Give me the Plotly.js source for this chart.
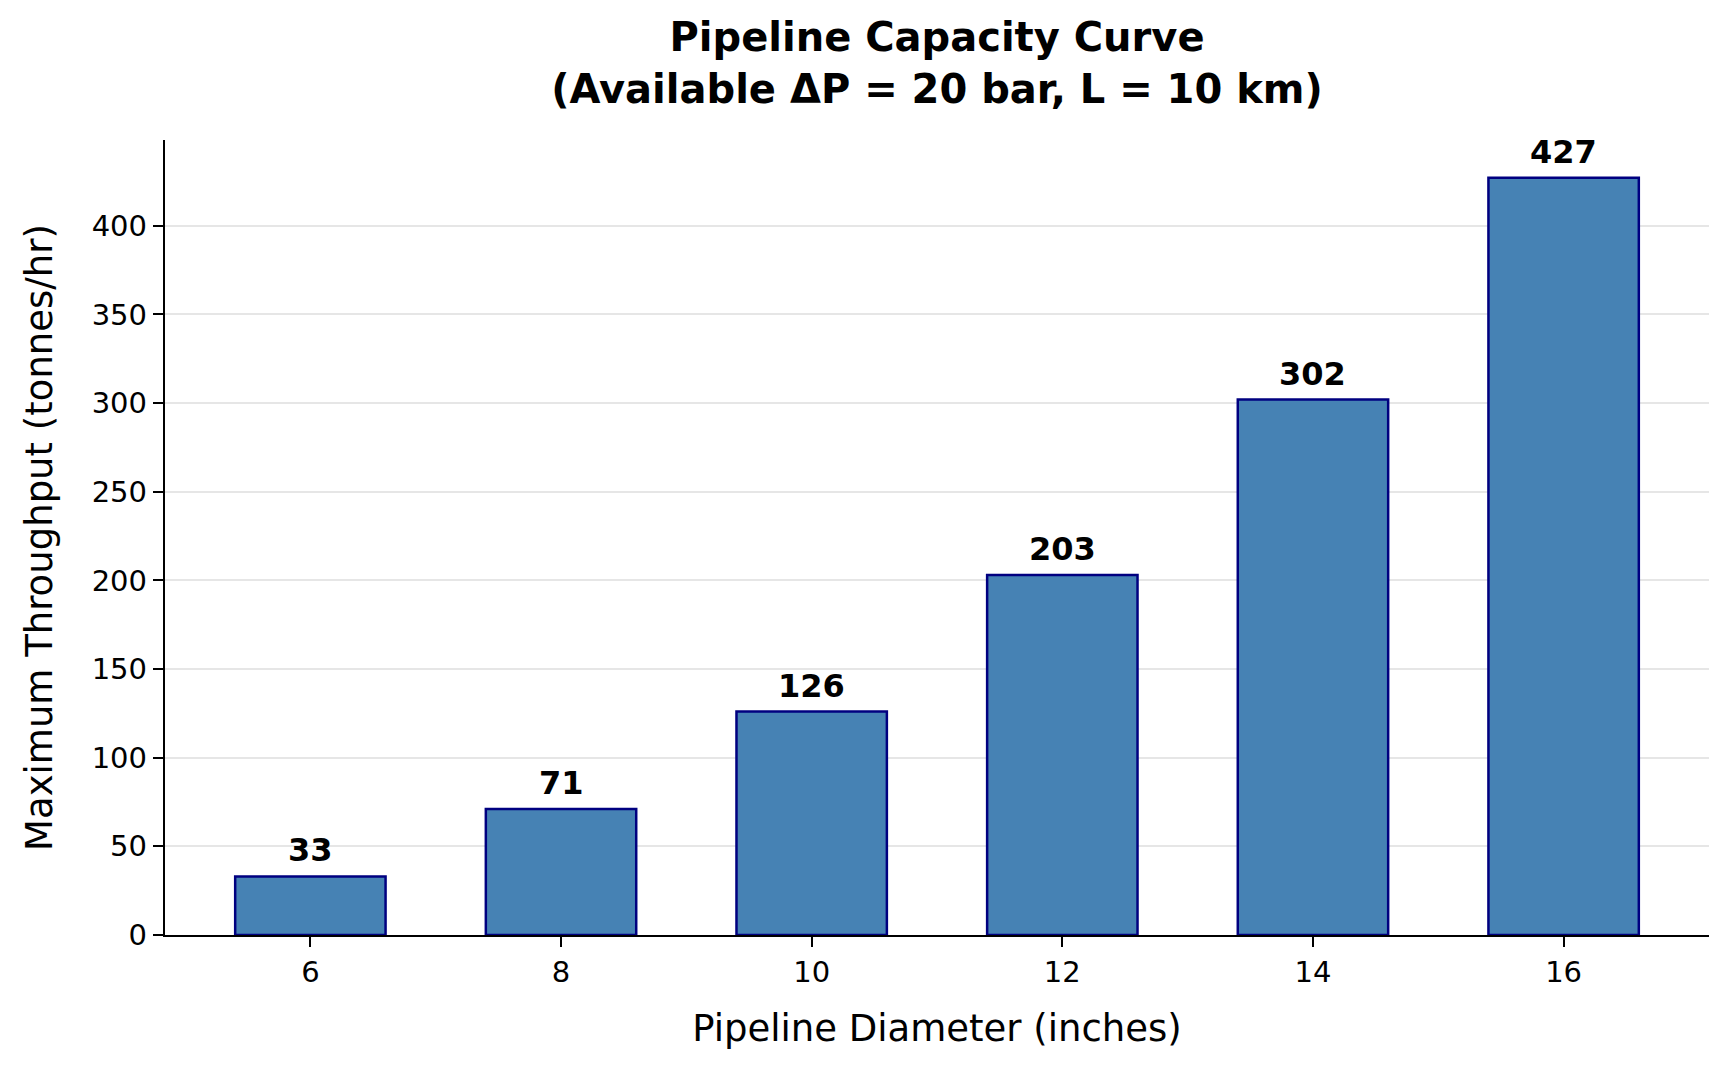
<!DOCTYPE html>
<html>
<head>
<meta charset="utf-8">
<script src="https://cdn.plot.ly/plotly-3.0.1.min.js"></script>
<style>
  html, body { margin: 0; padding: 0; background: #fff; }
  #chart { width: 1731px; height: 1071px; }
</style>
</head>
<body>
<div id="chart"></div>
<script>
// pipeline diameters (inches) and max throughput (tonnes/hr)
var diameters = ["6", "8", "10", "12", "14", "16"];
var throughput = [33, 71, 126, 203, 302, 427];
var yTicks = [0, 50, 100, 150, 200, 250, 300, 350, 400];

var font = "DejaVu Sans, Verdana, sans-serif";

var bars = {
  type: "bar",
  x: diameters,
  y: throughput,
  width: 0.6,
  marker: {
    color: "#4682B4",
    line: {color: "#000080", width: 2.5}
  },
  hoverinfo: "skip"
};

// value labels over each bar (category axis -> annotation x is the index)
var labels = diameters.map(function (d, i) {
  return {
    x: i,
    y: throughput[i],
    xref: "x",
    yref: "y",
    text: "<b>" + throughput[i] + "</b>",
    showarrow: false,
    yanchor: "bottom",
    yshift: 5,
    font: {family: font, size: 32, color: "#000"}
  };
});

var layout = {
  width: 1731,
  height: 1071,
  margin: {l: 165, r: 22, t: 140, b: 136},
  paper_bgcolor: "#fff",
  plot_bgcolor: "#fff",
  font: {family: font, color: "#000"},
  showlegend: false,
  title: {
    text: "<b>Pipeline Capacity Curve<br>(Available ΔP = 20 bar, L = 10 km)</b>",
    font: {family: font, size: 40, color: "#000"},
    x: 0.5,
    xref: "paper",
    y: 0.952,
    yref: "container",
    yanchor: "top"
  },
  xaxis: {
    type: "category",
    range: [-0.58, 5.58],
    showline: true,
    linecolor: "#000",
    linewidth: 2.2,
    ticks: "outside",
    ticklen: 10,
    tickwidth: 2.2,
    tickcolor: "#000",
    showgrid: false,
    zeroline: false,
    tickfont: {family: font, size: 29, color: "#000"},
    title: {text: "Pipeline Diameter (inches)", font: {family: font, size: 37, color: "#000"}, standoff: 27}
  },
  yaxis: {
    range: [0, 448.35],
    tickvals: yTicks,
    showline: true,
    linecolor: "#000",
    linewidth: 2.2,
    ticks: "outside",
    ticklen: 10,
    tickwidth: 2.2,
    tickcolor: "#000",
    showgrid: true,
    gridcolor: "rgba(128,128,128,0.2)",
    gridwidth: 2,
    zeroline: false,
    tickfont: {family: font, size: 29, color: "#000"},
    title: {text: "Maximum Throughput (tonnes/hr)", font: {family: font, size: 37, color: "#000"}, standoff: 28}
  },
  annotations: labels
};

Plotly.newPlot("chart", [bars], layout, {displayModeBar: false, staticPlot: true});
</script>
</body>
</html>
